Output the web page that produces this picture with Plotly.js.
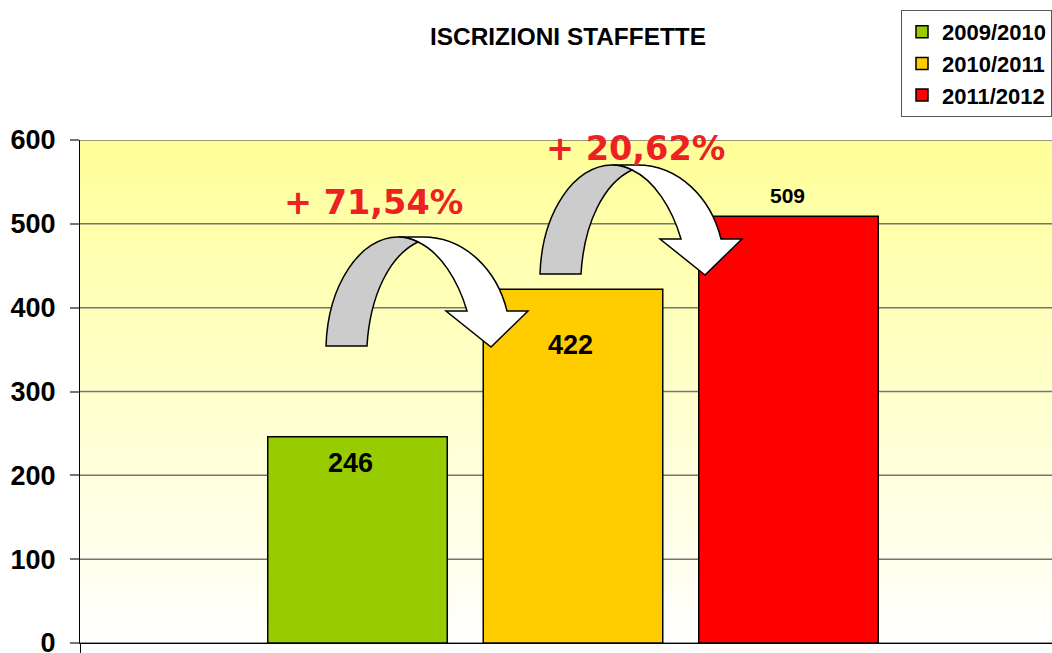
<!DOCTYPE html>
<html>
<head>
<meta charset="utf-8">
<script src="https://cdn.plot.ly/plotly-3.0.1.min.js"></script>
<style>html,body{margin:0;padding:0;background:#fff;overflow:hidden}</style>
</head>
<body>
<div id="chart" style="width:1052px;height:653px"></div>
<script>
const seasons = ["2009/2010", "2010/2011", "2011/2012"];
const enrolments = [246, 422, 509];
const barColors = ["#99CC00", "#FFCC00", "#FF0000"];
const yTicks = [0, 100, 200, 300, 400, 500, 600];
const growthLabels = ["+ 71,54%", "+ 20,62%"];

const W = 1052, H = 653, L = 80, T = 140, B = 10;
const xRange = [-1.2877, 3.2227];
const yRange = [0, 600];
const px = v => (v - L) / (W - L);
const py = v => (H - B - v) / (H - B - T);

// Curved arrow drawn in paper coordinates; dx, dy move the whole shape.
function arrow(dx, dy) {
  const X = v => px(v + dx).toFixed(5), Y = v => py(v + dy).toFixed(5);
  const P = (a, b) => X(a) + ',' + Y(b);
  const base = {type: 'path', xref: 'paper', yref: 'paper', layer: 'above', line: {color: '#000', width: 1.5}};
  const white = Object.assign({}, base, {fillcolor: '#FFFFFF', path:
    'M' + P(398, 237) + ' L' + P(423, 237) + ' C' + P(465, 237) + ' ' + P(497, 270) + ' ' + P(507, 311) +
    ' L' + P(528, 311) + ' L' + P(491, 347) + ' L' + P(446, 311) + ' L' + P(467, 311) +
    ' C' + P(458, 280) + ' ' + P(440, 252) + ' ' + P(418, 242) + ' C' + P(412, 239) + ' ' + P(405, 237) + ' ' + P(398, 237) + ' Z'});
  const grey = Object.assign({}, base, {fillcolor: '#CCCCCC', path:
    'M' + P(326, 346) + ' C' + P(328, 285) + ' ' + P(360, 237) + ' ' + P(398, 237) +
    ' C' + P(405, 237) + ' ' + P(412, 239) + ' ' + P(418, 242) +
    ' C' + P(390, 255) + ' ' + P(370, 295) + ' ' + P(367, 346) + ' Z'});
  return [white, grey];
}

const gridX = [], gridY = [];
yTicks.forEach(v => { gridX.push(xRange[0], xRange[1], null); gridY.push(v, v, null); });

const traces = [
  {type: 'scatter', mode: 'lines', x: [xRange[0], xRange[1], xRange[1], xRange[0], xRange[0]], y: [0, 0, 600, 600, 0],
   fill: 'toself', line: {width: 0}, showlegend: false, hoverinfo: 'skip',
   fillgradient: {type: 'vertical', colorscale: [[0, '#FFFFFF'], [1, '#FFFF99']]}},
  {type: 'scatter', mode: 'lines', x: gridX, y: gridY, line: {color: '#757575', width: 1.5},
   showlegend: false, hoverinfo: 'skip'}
];
seasons.forEach((s, i) => traces.push({
  type: 'bar', name: s, x: [i], y: [enrolments[i]], width: 0.833, xaxis: 'x2', yaxis: 'y2',
  legendgroup: s, marker: {color: barColors[i], line: {color: '#000', width: 1.5}}
}));

const labelFont = {family: 'Liberation Sans, Arial, sans-serif', color: '#000'};
const annotations = [
  {xref: 'x2', yref: 'y2', x: 0, xshift: -7, y: enrolments[0], yshift: -26, text: String(enrolments[0]), showarrow: false,
   font: Object.assign({size: 27}, labelFont), yanchor: 'middle'},
  {xref: 'x2', yref: 'y2', x: 1, xshift: -3, y: enrolments[1], yshift: -56, text: String(enrolments[1]), showarrow: false,
   font: Object.assign({size: 27}, labelFont), yanchor: 'middle'},
  {xref: 'x2', yref: 'y2', x: 2, xshift: -1, y: enrolments[2], yshift: 21, text: String(enrolments[2]), showarrow: false,
   font: Object.assign({size: 21}, labelFont), yanchor: 'middle'}
].map(a => Object.assign(a, {text: '<b>' + a.text + '</b>'}));
[[373.5, 202], [635.5, 148]].forEach((c, i) => annotations.push({
  xref: 'paper', yref: 'paper', x: px(c[0]), y: py(c[1]), text: '<b>' + growthLabels[i] + '</b>', showarrow: false,
  xanchor: 'center', yanchor: 'middle', font: {family: 'DejaVu Sans, Verdana, sans-serif', size: 33.5, color: '#ED2024'}
}));

const layout = {
  width: W, height: H,
  margin: {l: L, r: 0, t: T, b: B, pad: 0},
  paper_bgcolor: '#FFFFFF', plot_bgcolor: 'rgba(0,0,0,0)',
  barmode: 'overlay',
  showlegend: true,
  font: {family: 'Liberation Sans, Arial, sans-serif', color: '#000'},
  title: {text: '<b>ISCRIZIONI STAFFETTE</b>', x: 568 / W, xanchor: 'center', xref: 'container',
          y: 1 - 36 / H, yref: 'container', yanchor: 'middle', font: {size: 24.4, color: '#000'}},
  xaxis: {range: xRange, showgrid: false, zeroline: false, showline: true, linecolor: '#000', linewidth: 1, showticklabels: false,
          tickmode: 'array', tickvals: [xRange[0]], ticks: 'outside', ticklen: 10, tickcolor: '#000', tickwidth: 1},
  yaxis: {range: yRange, tickmode: 'array', tickvals: yTicks, ticktext: yTicks.map(v => '<b>' + v + '</b>'),
          showgrid: false, zeroline: false, showline: true, linecolor: '#000', linewidth: 1,
          ticks: 'outside', ticklen: 9, tickcolor: '#757575', tickwidth: 1.5, ticklabelstandoff: 9,
          ticklabeloverflow: 'allow', tickfont: {size: 27, color: '#000'}},
  xaxis2: {range: xRange, overlaying: 'x', visible: false, fixedrange: true},
  yaxis2: {range: yRange, overlaying: 'y', visible: false, fixedrange: true},
  legend: {x: 1, xanchor: 'right', y: py(10), yanchor: 'top', bgcolor: '#FFFFFF', bordercolor: '#555555', borderwidth: 1,
           font: {size: 22, color: '#000', weight: 700}, traceorder: 'grouped', tracegroupgap: 0, itemwidth: 30},
  shapes: arrow(0, 0).concat(arrow(214, -72)),
  annotations: annotations
};

Plotly.newPlot('chart', traces, layout, {displayModeBar: false, responsive: false});
</script>
</body>
</html>
